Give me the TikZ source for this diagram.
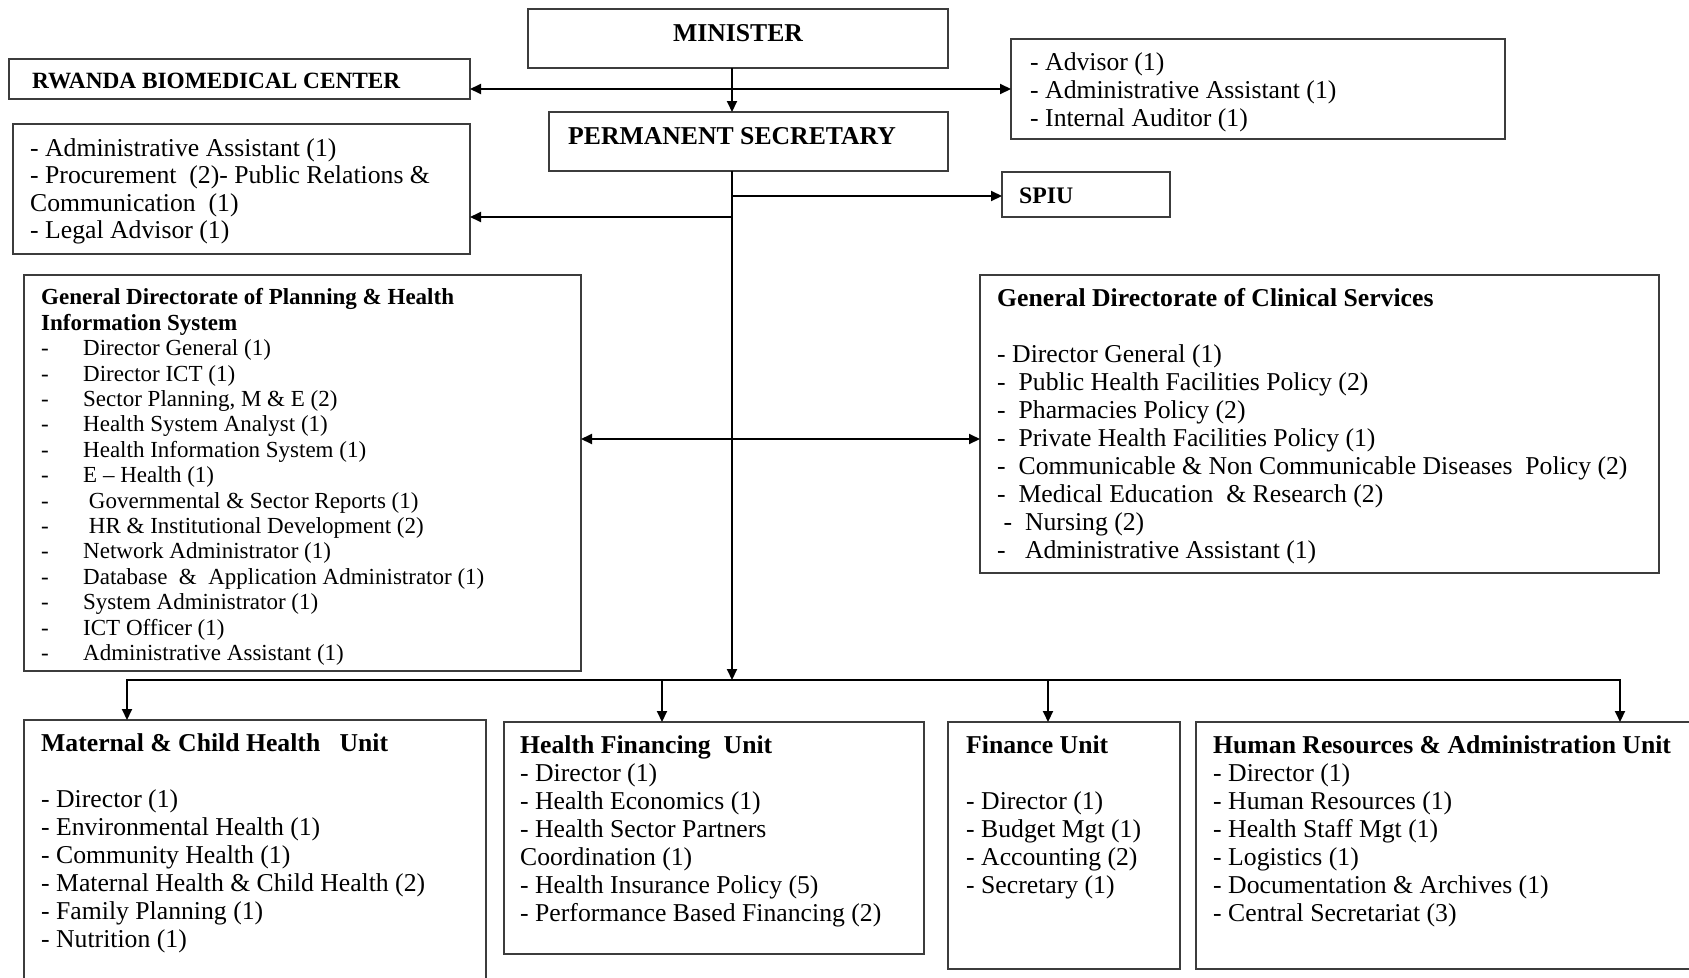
\documentclass[tikz,border=0pt]{standalone}
\usepackage{fontspec}
\setmainfont{Liberation Serif}
\usetikzlibrary{arrows.meta}
\definecolor{boxgray}{HTML}{3C3C3C}
\newcommand\fa{\fontsize{25.7}{28}\selectfont}
\newcommand\fb{\fontsize{25.7}{27.5}\selectfont}
\newcommand\fp{\fontsize{23}{25.4}\selectfont}
\newcommand\pdash{\makebox[42pt][l]{-}}
\begin{document}
\begin{tikzpicture}[x=1pt,y=-1pt,
 box/.style={draw=boxgray,line width=1.9pt,inner sep=0pt,outer sep=0pt,anchor=north west},
 txt/.style={inner sep=0pt,anchor=north west,align=left,font=\fa},
 ttl/.style={inner sep=0pt,anchor=west,font=\fa\bfseries},
 arr/.style={line width=2pt,-{Triangle[length=11pt,width=10pt]}},
 darr/.style={line width=2pt,{Triangle[length=11pt,width=10pt]}-{Triangle[length=11pt,width=10pt]}},
 ln/.style={line width=2pt}]
\useasboundingbox (0,0) rectangle (1689,977);
\clip (0,0) rectangle (1689,977);
% boxes
\node[box,minimum width=420pt,minimum height=59pt] (min) at (528,9) {};
\node[box,minimum width=461pt,minimum height=40pt] (rbc) at (9,59) {};
\node[box,minimum width=494pt,minimum height=100pt] (adv) at (1011,39) {};
\node[box,minimum width=399pt,minimum height=59pt] (ps) at (549,112) {};
\node[box,minimum width=457pt,minimum height=130pt] (adm) at (13,124) {};
\node[box,minimum width=168pt,minimum height=45pt] (spiu) at (1002,172) {};
\node[box,minimum width=557pt,minimum height=396pt] (plan) at (24,275) {};
\node[box,minimum width=679pt,minimum height=298pt] (clin) at (980,275) {};
\node[box,minimum width=462pt,minimum height=280pt] (mch) at (24,720) {};
\node[box,minimum width=420pt,minimum height=232pt] (hf) at (504,722) {};
\node[box,minimum width=232pt,minimum height=247pt] (fin) at (948,722) {};
\node[box,minimum width=520pt,minimum height=247pt] (hr) at (1196,722) {};
% texts
\node[ttl,anchor=center] (minT) at (738,33) {MINISTER};
\node[ttl,font=\fontsize{23.3}{26}\selectfont\bfseries] (rbcT) at (32,81) {RWANDA BIOMEDICAL CENTER};
\node[ttl] (psT) at (568,136) {PERMANENT SECRETARY};
\node[ttl,font=\fontsize{23.7}{26}\selectfont\bfseries] (spiuT) at (1019,196) {SPIU};
\node[txt] (advT) at (1030,51) {\strut- Advisor (1)\\- Administrative Assistant (1)\\- Internal Auditor (1)};
\node[txt,font=\fb] (admT) at (30,137) {\strut- Administrative Assistant (1)\\- Procurement\ \ (2)- Public Relations \&\\Communication\ \ (1)\\- Legal Advisor (1)};
\node[txt,font=\fp] (planT) at (41,287) {\strut\textbf{General Directorate of Planning \& Health}\\\textbf{Information System}\\
\pdash Director General (1)\\
\pdash Director ICT (1)\\
\pdash Sector Planning, M \& E (2)\\
\pdash Health System Analyst (1)\\
\pdash Health Information System (1)\\
\pdash E -- Health (1)\\
\pdash\ Governmental \& Sector Reports (1)\\
\pdash\ HR \& Institutional Development (2)\\
\pdash Network Administrator (1)\\
\pdash Database\ \ \&\ \ Application Administrator (1)\\
\pdash System Administrator (1)\\
\pdash ICT Officer (1)\\
\pdash Administrative Assistant (1)};
\node[txt] (clinT) at (997,287) {\strut\textbf{General Directorate of Clinical Services}\\[28pt]
- Director General (1)\\
-\ \ Public Health Facilities Policy (2)\\
-\ \ Pharmacies Policy (2)\\
-\ \ Private Health Facilities Policy (1)\\
-\ \ Communicable \& Non Communicable Diseases\ \ Policy (2)\\
-\ \ Medical Education\ \ \& Research (2)\\
\ -\ \ Nursing (2)\\
-\ \ \ Administrative Assistant (1)};
\node[txt] (mchT) at (41,732) {\strut\textbf{Maternal \& Child Health\ \ \ Unit}\\[28pt]
- Director (1)\\
- Environmental Health (1)\\
- Community Health (1)\\
- Maternal Health \& Child Health (2)\\
- Family Planning (1)\\
- Nutrition (1)};
\node[txt] (hfT) at (520,734) {\strut\textbf{Health Financing\ \ Unit}\\
- Director (1)\\
- Health Economics (1)\\
- Health Sector Partners\\
Coordination (1)\\
- Health Insurance Policy (5)\\
- Performance Based Financing (2)};
\node[txt] (finT) at (966,734) {\strut\textbf{Finance Unit}\\[28pt]
- Director (1)\\
- Budget Mgt (1)\\
- Accounting (2)\\
- Secretary (1)};
\node[txt] (hrT) at (1213,734) {\strut\textbf{Human Resources \& Administration Unit}\\
- Director (1)\\
- Human Resources (1)\\
- Health Staff Mgt (1)\\
- Logistics (1)\\
- Documentation \& Archives (1)\\
- Central Secretariat (3)};
% connectors
\coordinate (spine) at (732,0);
\coordinate (hy) at (0,89);
\coordinate (sy) at (0,196);
\coordinate (ay) at (0,217);
\coordinate (dy) at (0,439);
\coordinate (bus) at (0,680);
\coordinate (busL) at (127,680);
\coordinate (busR) at (1620,680);
\coordinate (dHF) at (662,680);
\coordinate (dFin) at (1048,680);
\draw[darr] (rbc.east |- hy) -- (adv.west |- hy);
\draw[arr] (min.south -| spine) -- (ps.north -| spine);
\draw[arr] (ps.south -| spine) -- (spine |- bus);
\draw[arr] (spine |- sy) -- (spiu.west |- sy);
\draw[arr] (spine |- ay) -- (adm.east |- ay);
\draw[darr] (plan.east |- dy) -- (clin.west |- dy);
\draw[arr] (spine |- bus) -| (busL |- mch.north);
\draw[arr] (spine |- bus) -| (busR |- hr.north);
\draw[arr] (dHF) -- (dHF |- hf.north);
\draw[arr] (dFin) -- (dFin |- fin.north);
\end{tikzpicture}
\end{document}
